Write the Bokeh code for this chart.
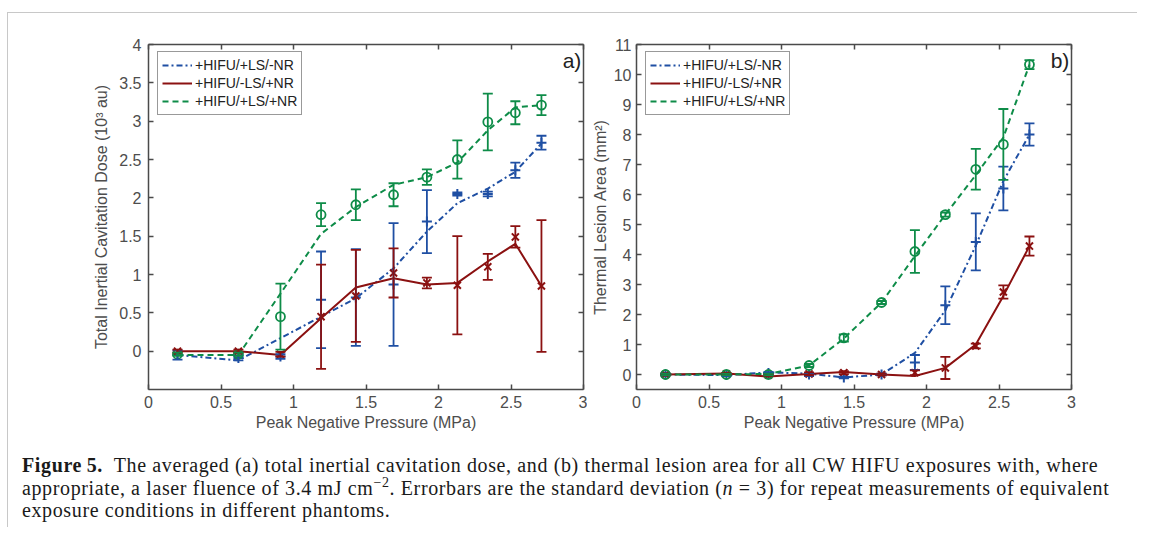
from bokeh.plotting import figure
from bokeh.models import (ColumnDataSource, Whisker, TeeHead, LinearAxis, FixedTicker,
                          Label, Div, Range1d)
from bokeh.layouts import row, column
from bokeh.embed import file_html
from bokeh.resources import INLINE

# ---------------- data ----------------
pressure = [0.2, 0.62, 0.91, 1.19, 1.43, 1.69, 1.92, 2.13, 2.34, 2.53, 2.71]

series_names = ["+HIFU/+LS/-NR", "+HIFU/-LS/+NR", "+HIFU/+LS/+NR"]

# (a) total inertial cavitation dose (10^3 au)
a_blue_mean = [-0.05, -0.09, -0.07, 0.67, 0.70, 0.87, 1.69, 2.05, 2.05, 2.36, 2.72]
a_blue_sd = [0.06, 0.03, 0.03, 0.63, 0.63, 0.80, 0.41, 0.02, 0.03, 0.10, 0.09]
a_blue_fit = [-0.05, -0.12, 0.17, 0.45, 0.69, 1.08, 1.56, 1.93, 2.12, 2.34, 2.71]

a_red_mean = [0.0, 0.0, -0.04, 0.45, 0.72, 1.02, 0.89, 0.86, 1.10, 1.49, 0.85]
a_red_sd = [0.02, 0.02, 0.03, 0.68, 0.60, 0.32, 0.07, 0.64, 0.17, 0.14, 0.86]
a_red_fit = [0.0, 0.0, -0.05, 0.43, 0.83, 0.95, 0.87, 0.89, 1.17, 1.40, 0.85]

a_green_mean = [-0.04, -0.04, 0.45, 1.78, 1.91, 2.04, 2.27, 2.50, 2.99, 3.11, 3.21]
a_green_sd = [0.02, 0.02, 0.43, 0.15, 0.20, 0.15, 0.10, 0.25, 0.37, 0.15, 0.13]
a_green_fit = [-0.05, -0.05, 0.75, 1.53, 1.88, 2.17, 2.27, 2.46, 2.88, 3.18, 3.21]

# (b) thermal lesion area (mm^2)
b_blue_mean = [0.0, -0.02, 0.05, 0.0, -0.10, 0.0, 0.40, 2.31, 4.42, 6.20, 8.00]
b_blue_sd = [0.03, 0.03, 0.03, 0.05, 0.03, 0.03, 0.25, 0.63, 0.95, 0.73, 0.37]
b_blue_fit = [0.0, -0.02, 0.07, 0.03, -0.10, 0.0, 0.72, 2.14, 4.30, 6.45, 8.00]

b_red_mean = [0.0, 0.02, -0.02, 0.02, 0.06, 0.0, 0.06, 0.22, 0.95, 2.75, 4.28]
b_red_sd = [0.03, 0.03, 0.03, 0.05, 0.05, 0.03, 0.08, 0.37, 0.08, 0.22, 0.32]
b_red_fit = [0.0, 0.03, -0.07, 0.02, 0.08, 0.0, -0.05, 0.22, 1.00, 2.62, 4.28]

b_green_mean = [0.0, 0.0, 0.0, 0.30, 1.22, 2.40, 4.10, 5.33, 6.84, 7.67, 10.33]
b_green_sd = [0.03, 0.03, 0.03, 0.05, 0.12, 0.05, 0.71, 0.07, 0.68, 1.18, 0.15]
b_green_fit = [0.0, 0.0, 0.02, 0.30, 1.20, 2.40, 3.95, 5.33, 6.65, 7.90, 10.33]

x_ticks = [0, 0.5, 1, 1.5, 2, 2.5, 3]
a_y_ticks = [0, 0.5, 1, 1.5, 2, 2.5, 3, 3.5, 4]
b_y_ticks = list(range(0, 12))

# ---------------- style ----------------
BLUE = "#1f4fa3"
RED = "#8b1111"
GREEN = "#0e8c48"
AXIS = "#4a4a4a"
TICKTXT = "#4d4d4d"
FONT = "Liberation Sans"
FRAME_H = 345

styles = [
    dict(color=BLUE, dash="6 3 2 3", marker="cross"),
    dict(color=RED, dash="solid", marker="x"),
    dict(color=GREEN, dash="6 4", marker="circle"),
]


def style_axis(ax, ticks, show_labels=True):
    ax.ticker = FixedTicker(ticks=ticks)
    ax.axis_line_color = AXIS
    ax.axis_line_width = 1.5
    ax.major_tick_line_color = AXIS
    ax.major_tick_line_width = 1.5
    ax.major_tick_in = 5
    ax.major_tick_out = 0
    ax.minor_tick_line_color = None
    ax.major_label_text_font = FONT
    ax.major_label_text_font_size = "16px"
    ax.major_label_text_color = TICKTXT
    ax.axis_label_text_font = FONT
    ax.axis_label_text_font_size = "16px"
    ax.axis_label_text_color = TICKTXT
    ax.axis_label_text_font_style = "normal"
    if not show_labels:
        ax.major_label_text_font_size = "0px"
        ax.major_label_standoff = 0


def make_panel(means, sds, fits, yr, yticks, ylabel, letter, letter_y,
               width, min_left, min_right, ylab_standoff, yaxis_standoff):
    p = figure(width=width, height=31 + FRAME_H + 50, output_backend="svg",
               toolbar_location=None,
               x_range=Range1d(0, 3), y_range=Range1d(*yr),
               min_border_left=min_left, min_border_right=min_right,
               min_border_top=31, min_border_bottom=50)
    p.grid.grid_line_color = None
    p.outline_line_color = None
    p.background_fill_color = "white"
    p.border_fill_color = "white"

    style_axis(p.xaxis[0], x_ticks)
    p.xaxis[0].axis_label = "Peak Negative Pressure (MPa)"
    p.xaxis[0].major_label_standoff = 6
    p.xaxis[0].axis_label_standoff = 3
    style_axis(p.yaxis[0], yticks)
    p.yaxis[0].axis_label = ylabel
    p.yaxis[0].major_label_standoff = ylab_standoff
    p.yaxis[0].axis_label_standoff = yaxis_standoff

    top = LinearAxis()
    style_axis(top, x_ticks, show_labels=False)
    p.add_layout(top, "above")
    right = LinearAxis()
    style_axis(right, yticks, show_labels=False)
    p.add_layout(right, "right")

    for name, m, s, f, st in zip(series_names, means, sds, fits, styles):
        src = ColumnDataSource(dict(
            x=pressure, y=m,
            upper=[a + b for a, b in zip(m, s)],
            lower=[a - b for a, b in zip(m, s)],
        ))
        w = Whisker(source=src, base="x", upper="upper", lower="lower",
                    line_color=st["color"], line_width=1.8, level="glyph",
                    upper_head=TeeHead(size=10, line_color=st["color"], line_width=1.8),
                    lower_head=TeeHead(size=10, line_color=st["color"], line_width=1.8))
        p.add_layout(w)
        p.line(pressure, f, line_color=st["color"], line_width=2,
               line_dash=st["dash"], legend_label=name)
        if st["marker"] == "circle":
            p.scatter("x", "y", source=src, marker="circle", size=9,
                      fill_color=None, line_color=st["color"], line_width=1.8)
        else:
            p.scatter("x", "y", source=src, marker=st["marker"], size=10,
                      line_color=st["color"], line_width=2)

    lg = p.legend[0]
    lg.location = (9, FRAME_H - 9 - 62)
    lg.margin = 0
    lg.padding = 4
    lg.spacing = 0
    lg.label_height = 18
    lg.glyph_height = 18
    lg.glyph_width = 30
    lg.label_standoff = 3
    lg.label_text_font = FONT
    lg.label_text_font_size = "14px"
    lg.label_text_color = "#222222"
    lg.border_line_color = "#333333"
    lg.border_line_width = 1.5
    lg.background_fill_alpha = 1.0

    p.add_layout(Label(x=2.985, y=letter_y, text=letter, text_align="right",
                       text_baseline="middle", text_font=FONT,
                       text_font_size="21px", text_color="#222222"))
    return p


pa = make_panel([a_blue_mean, a_red_mean, a_green_mean],
                [a_blue_sd, a_red_sd, a_green_sd],
                [a_blue_fit, a_red_fit, a_green_fit],
                (-0.5, 4), a_y_ticks, "Total Inertial Cavitation Dose (10\u00b3 au)",
                "a)", 3.79, 140 + 435 + 4, 140, 4, 7, 6)
pb = make_panel([b_blue_mean, b_red_mean, b_green_mean],
                [b_blue_sd, b_red_sd, b_green_sd],
                [b_blue_fit, b_red_fit, b_green_fit],
                (-0.5, 11), b_y_ticks, "Thermal Lesion Area (mm\u00b2)",
                "b)", 10.47, 49 + 435 + 55, 49, 55, 5, 2)

caption = Div(
    text=("<b>Figure\u202f5.</b>&nbsp; The averaged (a) total inertial cavitation dose, and (b) "
          "thermal lesion area for all CW HIFU exposures with, where<br>"
          "appropriate, a laser fluence of 3.4 mJ cm<sup style='font-size:70%;line-height:0'>\u22122</sup>. "
          "Errorbars are the standard deviation (<i>n</i> = 3) for repeat measurements of equivalent<br>"
          "exposure conditions in different phantoms."),
    width=1110,
    styles={"font-family": "Liberation Serif", "font-size": "20px", "line-height": "22.5px",
            "letter-spacing": "0.62px", "color": "#1a1a1a", "white-space": "nowrap",
            "margin-top": "15px", "margin-left": "14px"},
)

layout = column(row(pa, pb), caption,
                styles={"border-top": "1px solid #c8c8c8", "border-left": "1px solid #c8c8c8",
                        "margin-top": "12px", "margin-left": "7px"})

open("out.html", "w").write(file_html(layout, INLINE))
